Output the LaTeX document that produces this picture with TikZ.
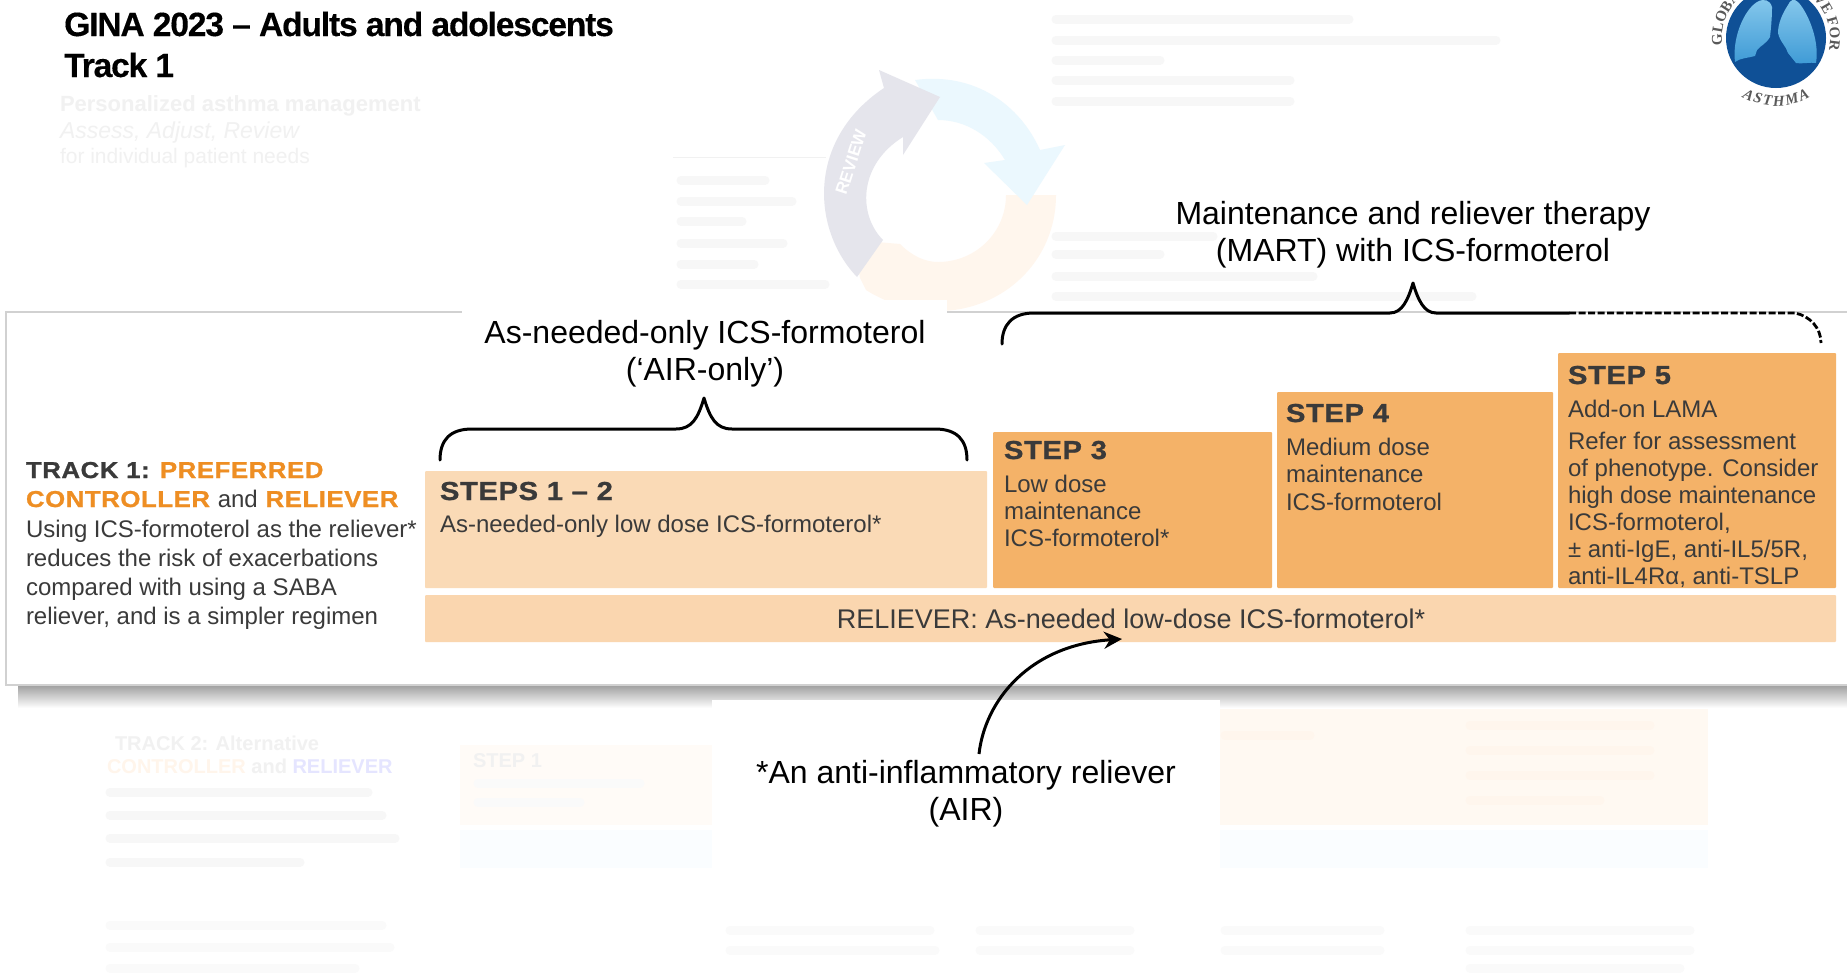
\documentclass[tikz,border=0pt]{standalone}
\usepackage{fontspec}
\setmainfont{Liberation Sans}
\newfontfamily\hvy[FakeBold=1,FakeStretch=1.12,LetterSpace=2.5]{Liberation Sans Bold}
\newfontfamily\ttl[LetterSpace=-3.5,FakeBold=0.3]{Liberation Sans Bold}
\newfontfamily\logof{Liberation Serif}
\usetikzlibrary{arrows.meta,decorations.text,calc}
\definecolor{ink}{HTML}{3A3A3A}
\definecolor{org}{HTML}{EE8E23}
\definecolor{pale}{HTML}{FADAB6}
\definecolor{mid}{HTML}{F4B268}
\definecolor{ghost}{HTML}{F1F1F1}
\definecolor{ghostbar}{HTML}{F7F7F7}
\definecolor{ghostlow}{HTML}{FAFAFA}
\definecolor{lungtop}{HTML}{86C8EC}
\definecolor{lungbot}{HTML}{3F9BD6}
\definecolor{logoblue}{HTML}{0F5096}
\newcommand{\fs}[1]{\fontsize{#1}{#1}\selectfont}
\newcommand{\lft}[2]{\vtop{\baselineskip=#1\lineskiplimit=-100pt\halign{##\hfil\cr #2\cr}}}
\newcommand{\ctr}[2]{\vtop{\baselineskip=#1\lineskiplimit=-100pt\halign{\hfil##\hfil\cr #2\cr}}}
\tikzset{
  lbl/.style={inner sep=0pt,outer sep=0pt,anchor=base west,text=ink},
  lblc/.style={inner sep=0pt,outer sep=0pt,anchor=base,text=black},
  box/.style={anchor=north west,inner sep=0pt,outer sep=0pt,rounded corners=1pt},
  brace/.style={draw=black,line width=3pt,line cap=round,line join=round},
  gb/.style={ghostbar,line width=9pt,line cap=round},
  gl/.style={ghostlow,line width=9pt,line cap=round},
  gt/.style={inner sep=0pt,outer sep=0pt,anchor=base west,text=ghost},
}
\begin{document}
\begin{tikzpicture}[x=1pt,y=-1pt]
\useasboundingbox (0,0) rectangle (1847,975);
\clip (0,0) rectangle (1847,975);
\fill[white] (0,0) rectangle (1847,975);

% --- faded background of the slide ---
\node[gt,font=\fs{22}\bfseries] (g1) at (60,111) {Personalized asthma management};
\node[gt,font=\fs{23}\itshape] (g2) at (60,138) {Assess, Adjust, Review};
\node[gt,font=\fs{21}] (g3) at (60,163) {for individual patient needs};

% cycle
\fill[orange!7] (1056,195) .. controls (1056,262) and (1002,311) .. (938,311)
  .. controls (910,311) and (885,302) .. (866,290) -- (860,278) -- (853,240) -- (900,244)
  .. controls (912,256) and (925,262) .. (938,262) .. controls (976,262) and (1006,232) .. (1006,195) -- cycle;
\fill[cyan!8] (915,80) .. controls (975,72) and (1020,105) .. (1040,150) -- (1065,145) -- (1027,205) -- (984,163) -- (1005,160)
  .. controls (990,135) and (965,120) .. (938,120) -- cycle;
\fill[blue!15!gray!18] (857,277) .. controls (812,230) and (806,140) .. (884,88) -- (879,70) -- (940,97) -- (903,155) -- (903,137)
  .. controls (858,165) and (858,215) .. (883,240) -- cycle;
\node[inner sep=0pt,text=white,font=\fs{17}\bfseries,rotate=72] (grev) at (851,162) {REVIEW};

% faded text lines, top right
\foreach \y/\e in {19/1349,40/1496,60/1160,80/1290,101/1290} \draw[gb] (1056,\y) -- (\e,\y);
\foreach \y/\e in {236/1213,254/1160,276/1313,296/1472} \draw[gb] (1056,\y) -- (\e,\y);
\foreach \y/\e in {180/765,201/792,221/742,243/783,264/754,284/825} \draw[gb] (681,\y) -- (\e,\y);
\draw[ghost,line width=1pt] (673,157) -- (826,157);

% faded Track 2 row
\fill[orange!3] (460,745) rectangle (712,825);
\fill[orange!5] (1220,700) rectangle (1708,825);
\fill[cyan!2] (460,830) rectangle (1708,868);
\node[gt,font=\fs{20}\bfseries] (g4) at (115,750) {TRACK 2: Alternative};
\node[gt,font=\fs{20}\bfseries] (g5) at (107,773) {\textcolor{orange!8}{CONTROLLER} and \textcolor{blue!10}{RELIEVER}};
\node[gt,font=\fs{20}\bfseries] (g6) at (473,767) {STEP 1};
\foreach \y/\e in {792/368,815/382,838/395,862/300} \draw[gb] (110,\y) -- (\e,\y);
\foreach \y/\e in {925/382,947/390,968/355} \draw[gl] (110,\y) -- (\e,\y);
\foreach \y/\e in {783/640,802/580} \draw[gl] (478,\y) -- (\e,\y);
\foreach \y/\s/\e in {930/730/930,950/730/935,930/980/1130,950/980/1130,930/1225/1380,950/1225/1380,930/1470/1690,950/1470/1690,968/1470/1680} \draw[gl] (\s,\y) -- (\e,\y);
\foreach \y/\s/\e in {725/1470/1650,750/1470/1650,775/1470/1650,800/1470/1600,735/1225/1310} \draw[gb,orange!7] (\s,\y) -- (\e,\y);

% --- title ---
\node[inner sep=0pt,anchor=base west,font=\fs{33.6}\ttl,text=black] (title) at (64,36) {GINA 2023 – Adults and adolescents};
\node[inner sep=0pt,anchor=base west,font=\fs{33.6}\ttl,text=black] (title2) at (64,77) {Track 1};

% --- logo ---
\begin{scope}[shift={(1776,38)},x=1pt,y=1pt]
  \fill[logoblue] (0,0) circle (50);
  \shade[top color=lungtop,bottom color=lungbot] (-41,-24) .. controls (-44,0) and (-32,28) .. (-19,36)
     .. controls (-12,40) and (-6,38) .. (-4,31) .. controls (-4,20) and (-5,10) .. (-6,1)
     .. controls (-10,-6) and (-16,-8) .. (-19,-12) -- (-21,-18) .. controls (-28,-20) and (-36,-20) .. (-41,-24) -- cycle;
  \shade[top color=lungtop,bottom color=lungbot] (40,-25) .. controls (44,0) and (30,28) .. (22,36)
     .. controls (18,40) and (14,38) .. (12,33) .. controls (6,24) and (2,14) .. (2,5)
     .. controls (4,-4) and (10,-8) .. (12,-15) -- (20,-25) .. controls (28,-26) and (34,-24) .. (40,-25) -- cycle;
  \path[decorate,decoration={text along path,text align={fit to path stretching spaces},
     text={|\logof\fs{15}\bfseries\color{black!65}|GLOBAL INITIATIVE FOR}}]
     (188:54) arc (188:-8:54);
  \path[decorate,decoration={text along path,text align={fit to path},
     text={|\logof\fs{15}\bfseries\itshape\color{black!65}|ASTHMA}}]
     (240:68) arc (240:300:68);
\end{scope}

% --- panel ---
\shade[top color=black!36,bottom color=white] (18,686) rectangle (1847,708);
\draw[draw=black!18,fill=white,line width=1.5pt] (1860,312) -- (6,312) -- (6,685) -- (1860,685);

% white cover patches
\node[fill=white,anchor=north west,inner sep=0pt,minimum width=485pt,minimum height=100pt] (covera) at (462,300) {};
\node[fill=white,anchor=north west,inner sep=0pt,minimum width=508pt,minimum height=175pt] (coverb) at (712,700) {};

% --- boxes ---
\node[box,fill=pale,minimum width=562pt,minimum height=117pt] (s12) at (425,471) {};
\node[box,fill=mid,minimum width=279pt,minimum height=156pt] (s3) at (993,432) {};
\node[box,fill=mid,minimum width=276pt,minimum height=196pt] (s4) at (1277,392) {};
\node[box,fill=mid,minimum width=278pt,minimum height=235pt] (s5) at (1558,353) {};
\node[box,fill=pale!96!orange,minimum width=1411pt,minimum height=47pt] (rel) at (425,595) {};

% --- track text ---
\node[lbl,font=\fs{23}\hvy] (trk) at (26,478) {\lft{29pt}{TRACK 1: \textcolor{org}{PREFERRED}\cr
 \textcolor{org}{CONTROLLER} {\fs{24}\normalfont and} \textcolor{org}{RELIEVER}}};
\node[lbl,font=\fs{24}] (trkb) at (26,537) {\lft{29pt}{Using ICS-formoterol as the reliever*\cr
 reduces the risk of exacerbations\cr compared with using a SABA\cr reliever, and is a simpler regimen}};

% --- step text ---
\node[lbl,font=\fs{26}\hvy] (h12) at (440,500) {STEPS 1 – 2};
\node[lbl,font=\fs{24}] (t12) at (440,532) {As-needed-only low dose ICS-formoterol*};
\node[lbl,font=\fs{26}\hvy] (h3) at (1004,459) {STEP 3};
\node[lbl,font=\fs{24}] (t3) at (1004,492) {\lft{27pt}{Low dose\cr maintenance\cr ICS-formoterol*}};
\node[lbl,font=\fs{26}\hvy] (h4) at (1286,422) {STEP 4};
\node[lbl,font=\fs{24}] (t4) at (1286,455) {\lft{27.5pt}{Medium dose\cr maintenance\cr ICS-formoterol}};
\node[lbl,font=\fs{26}\hvy] (h5) at (1568,384) {STEP 5};
\node[lbl,font=\fs{24}] (t5a) at (1568,417) {Add-on LAMA};
\node[lbl,font=\fs{24}] (t5b) at (1568,449) {\lft{27pt}{Refer for assessment\cr of phenotype. Consider\cr high dose maintenance\cr ICS-formoterol,\cr ± anti-IgE, anti-IL5/5R,\cr anti-IL4Rα, anti-TSLP}};
\node[lblc,font=\fs{27},text=ink] (treliever) at (1131,628) {RELIEVER: As-needed low-dose ICS-formoterol*};

% --- callouts ---
\node[lblc,font=\fs{32}] (mart) at (1413,224) {\ctr{37pt}{Maintenance and reliever therapy\cr (MART) with ICS-formoterol}};
\node[lblc,font=\fs{32}] (airo) at (705,343) {\ctr{37pt}{As-needed-only ICS-formoterol\cr (‘AIR-only’)}};
\node[lblc,font=\fs{32}] (air) at (966,783) {\ctr{37pt}{*An anti-inflammatory reliever\cr (AIR)}};

% --- braces ---
\coordinate (ba) at (440,460); \coordinate (bb) at (967,460); \coordinate (bp) at (704,398);
\draw[brace] (ba) .. controls (440,440) and (450,429) .. (472,429) -- (676,429)
   .. controls (692,429) and (698,418) .. (bp) .. controls (710,418) and (716,429) .. (732,429)
   -- (935,429) .. controls (957,429) and (967,440) .. (bb);
\coordinate (ma) at (1002,344); \coordinate (mp) at (1413,283); \coordinate (ms) at (1569,313); \coordinate (me) at (1821,343);
\draw[brace] (ma) .. controls (1002,325) and (1012,313) .. (1034,313) -- (1390,313)
   .. controls (1402,313) and (1408,300) .. (mp) .. controls (1418,300) and (1424,313) .. (1436,313) -- (ms);
\draw[draw=black,line width=2.8pt,dash pattern=on 7pt off 2.5pt] (ms) -- (1795,313) .. controls (1810,316) and (1821,328) .. (me);

% --- arrow ---
\coordinate (airs) at (979,754); \coordinate (airt) at (1122,639);
\draw[draw=black,line width=3pt,-{Stealth[length=18pt,width=17pt]}] (airs) .. controls (985,700) and (1030,645) .. (airt);
\end{tikzpicture}
\end{document}
